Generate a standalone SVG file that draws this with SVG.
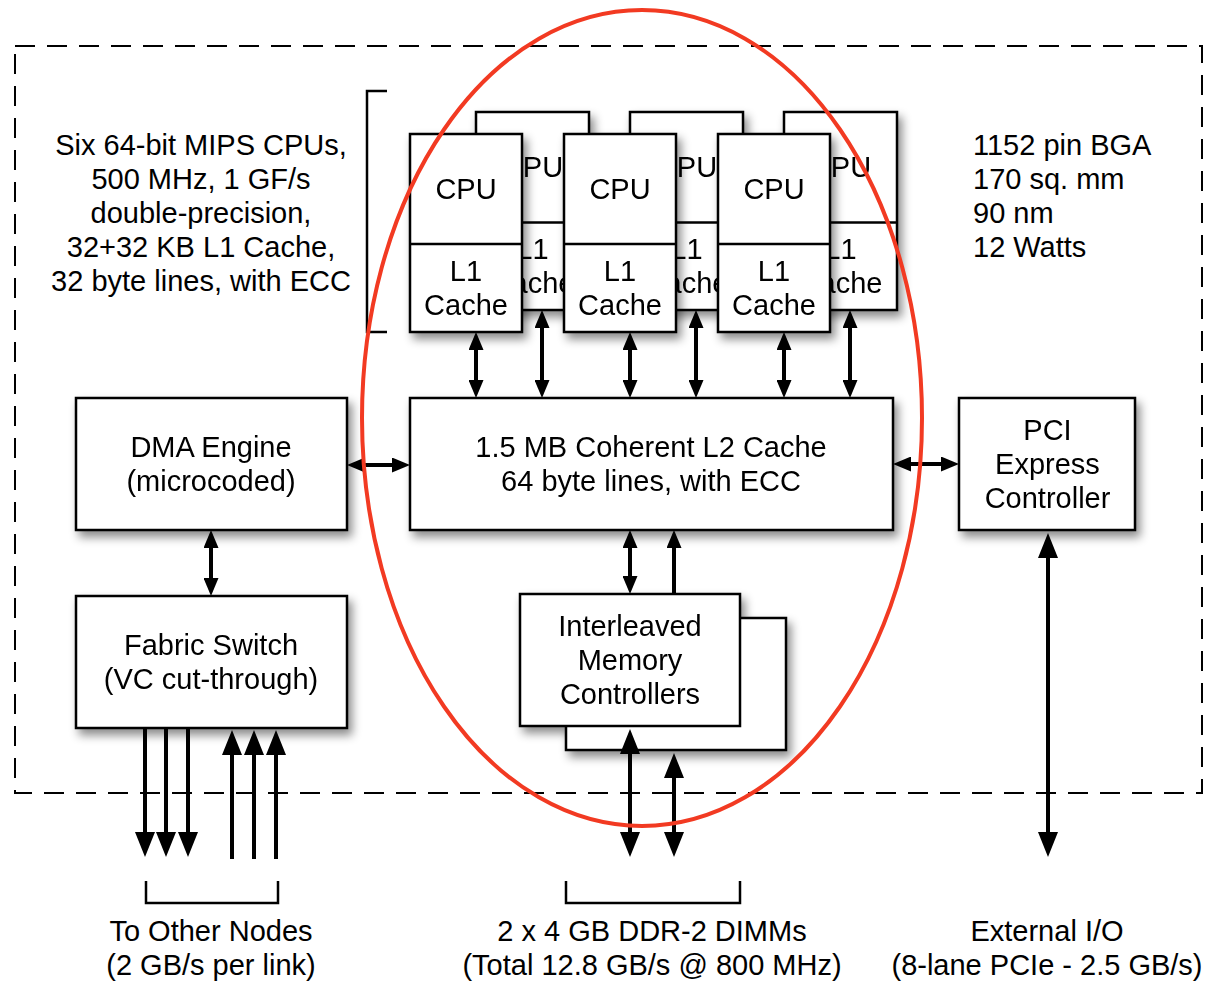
<svg xmlns="http://www.w3.org/2000/svg" width="1208" height="982" viewBox="0 0 1208 982">
<defs>
<filter id="sh" x="-20%" y="-20%" width="150%" height="150%"><feDropShadow dx="4" dy="6" stdDeviation="5" flood-color="#000" flood-opacity="0.45"/></filter>
<marker id="ah" markerUnits="userSpaceOnUse" viewBox="0 0 18 15" refX="13" refY="7.5" markerWidth="18" markerHeight="15" orient="auto-start-reverse"><path d="M0,0 L18,7.5 L0,15 z" fill="#000"/></marker>
<marker id="ahL" markerUnits="userSpaceOnUse" viewBox="0 0 25 20" refX="19" refY="10" markerWidth="25" markerHeight="20" orient="auto-start-reverse"><path d="M0,0 L25,10 L0,20 z" fill="#000"/></marker>
</defs>
<style>
.box{fill:#fff;stroke:#000;stroke-width:2.5}
.sh{filter:url(#sh)}
.t{font-family:"Liberation Sans",Arial,Helvetica,sans-serif;font-size:29px;fill:#000}
.c{text-anchor:middle}
.ln{stroke:#000;stroke-width:4;fill:none}
.br{stroke:#000;stroke-width:2.5;fill:none}
.a{marker-end:url(#ah)}
.aa{marker-start:url(#ah);marker-end:url(#ah)}
.A{marker-end:url(#ahL)}
.AA{marker-start:url(#ahL);marker-end:url(#ahL)}
</style>
<rect x="0" y="0" width="1208" height="982" fill="#fff"/>
<rect id="chip-border" x="15" y="46" width="1187" height="747" fill="none" stroke="#000" stroke-width="2" stroke-dasharray="20 12"/>

<g id="cpu-spec" class="t c">
<text x="201" y="155">Six 64-bit MIPS CPUs,</text>
<text x="201" y="189">500 MHz, 1 GF/s</text>
<text x="201" y="223">double-precision,</text>
<text x="201" y="257">32+32 KB L1 Cache,</text>
<text x="201" y="291">32 byte lines, with ECC</text>
<path class="br" d="M387,91 H367 V332 H387"/>
</g>

<g id="chip-spec" class="t">
<text x="973" y="155">1152 pin BGA</text>
<text x="973" y="189">170 sq. mm</text>
<text x="973" y="223">90 nm</text>
<text x="973" y="257">12 Watts</text>
</g>

<g id="cpu-back-1" class="sh">
<rect class="box" x="476" y="112" width="113" height="198"/>
<line class="br" x1="476" y1="222.5" x2="589" y2="222.5"/>
<text class="t c" x="532.5" y="177">CPU</text><text class="t c" x="532.5" y="259">L1</text><text class="t c" x="532.5" y="293">Cache</text>
</g>
<g id="cpu-back-2" class="sh">
<rect class="box" x="630" y="112" width="113" height="198"/>
<line class="br" x1="630" y1="222.5" x2="743" y2="222.5"/>
<text class="t c" x="686.5" y="177">CPU</text><text class="t c" x="686.5" y="259">L1</text><text class="t c" x="686.5" y="293">Cache</text>
</g>
<g id="cpu-back-3" class="sh">
<rect class="box" x="784" y="112" width="113" height="198"/>
<line class="br" x1="784" y1="222.5" x2="897" y2="222.5"/>
<text class="t c" x="840.5" y="177">CPU</text><text class="t c" x="840.5" y="259">L1</text><text class="t c" x="840.5" y="293">Cache</text>
</g>
<g id="cpu-front-1" class="sh">
<rect class="box" x="410" y="134" width="112" height="198"/>
<line class="br" x1="410" y1="244" x2="522" y2="244"/>
<text class="t c" x="466" y="199">CPU</text><text class="t c" x="466" y="281">L1</text><text class="t c" x="466" y="315">Cache</text>
</g>
<g id="cpu-front-2" class="sh">
<rect class="box" x="564" y="134" width="112" height="198"/>
<line class="br" x1="564" y1="244" x2="676" y2="244"/>
<text class="t c" x="620" y="199">CPU</text><text class="t c" x="620" y="281">L1</text><text class="t c" x="620" y="315">Cache</text>
</g>
<g id="cpu-front-3" class="sh">
<rect class="box" x="718" y="134" width="112" height="198"/>
<line class="br" x1="718" y1="244" x2="830" y2="244"/>
<text class="t c" x="774" y="199">CPU</text><text class="t c" x="774" y="281">L1</text><text class="t c" x="774" y="315">Cache</text>
</g>

<g id="dma" class="sh">
<rect class="box" x="76" y="398" width="271" height="132"/>
<text class="t c" x="211" y="457">DMA Engine</text>
<text class="t c" x="211" y="491">(microcoded)</text>
</g>
<g id="l2" class="sh">
<rect class="box" x="410" y="398" width="483" height="132"/>
<text class="t c" x="651" y="457">1.5 MB Coherent L2 Cache</text>
<text class="t c" x="651" y="491">64 byte lines, with ECC</text>
</g>
<g id="pci" class="sh">
<rect class="box" x="959" y="398" width="176" height="132"/>
<text class="t c" x="1047.5" y="440">PCI</text>
<text class="t c" x="1047.5" y="474">Express</text>
<text class="t c" x="1047.5" y="508">Controller</text>
</g>
<g id="fabric" class="sh">
<rect class="box" x="76" y="596" width="271" height="132"/>
<text class="t c" x="211" y="655">Fabric Switch</text>
<text class="t c" x="211" y="689">(VC cut-through)</text>
</g>
<g id="memctrl" class="sh">
<rect class="box" x="566" y="618" width="220" height="132"/>
<rect class="box" x="520" y="594" width="220" height="132"/>
<text class="t c" x="630" y="636">Interleaved</text>
<text class="t c" x="630" y="670">Memory</text>
<text class="t c" x="630" y="704">Controllers</text>
</g>

<g id="connectors">
<line class="ln aa" x1="476" y1="337" x2="476" y2="393"/>
<line class="ln aa" x1="542" y1="315" x2="542" y2="393"/>
<line class="ln aa" x1="630" y1="337" x2="630" y2="393"/>
<line class="ln aa" x1="696" y1="315" x2="696" y2="393"/>
<line class="ln aa" x1="784" y1="337" x2="784" y2="393"/>
<line class="ln aa" x1="850" y1="315" x2="850" y2="393"/>
<line class="ln aa" x1="352" y1="465" x2="405" y2="465"/>
<line class="ln aa" x1="898" y1="464" x2="954" y2="464"/>
<line class="ln aa" x1="211" y1="535" x2="211" y2="591"/>
<line class="ln aa" x1="630" y1="535" x2="630" y2="589"/>
<line class="ln a" x1="674" y1="594" x2="674" y2="535"/>
<line class="ln A" x1="145" y1="728" x2="145" y2="851"/>
<line class="ln A" x1="166" y1="728" x2="166" y2="851"/>
<line class="ln A" x1="188" y1="728" x2="188" y2="851"/>
<line class="ln A" x1="232" y1="859" x2="232" y2="736"/>
<line class="ln A" x1="254" y1="859" x2="254" y2="736"/>
<line class="ln A" x1="276" y1="859" x2="276" y2="736"/>
<line class="ln AA" x1="630" y1="735" x2="630" y2="851"/>
<line class="ln AA" x1="674" y1="759" x2="674" y2="851"/>
<line class="ln AA" x1="1048" y1="539" x2="1048" y2="851"/>
</g>

<g id="nodes-label">
<path class="br" d="M146,881 V903 H278 V881"/>
<text class="t c" x="211" y="941">To Other Nodes</text>
<text class="t c" x="211" y="975">(2 GB/s per link)</text>
</g>
<g id="dimms-label">
<path class="br" d="M566,881 V903 H740 V881"/>
<text class="t c" x="652" y="941">2 x 4 GB DDR-2 DIMMs</text>
<text class="t c" x="652" y="975">(Total 12.8 GB/s @ 800 MHz)</text>
</g>
<g id="io-label">
<text class="t c" x="1047" y="941">External I/O</text>
<text class="t c" x="1047" y="975">(8-lane PCIe - 2.5 GB/s)</text>
</g>

<ellipse id="highlight" cx="642" cy="418" rx="280" ry="408" fill="none" stroke="#f23a22" stroke-width="4"/>
</svg>
